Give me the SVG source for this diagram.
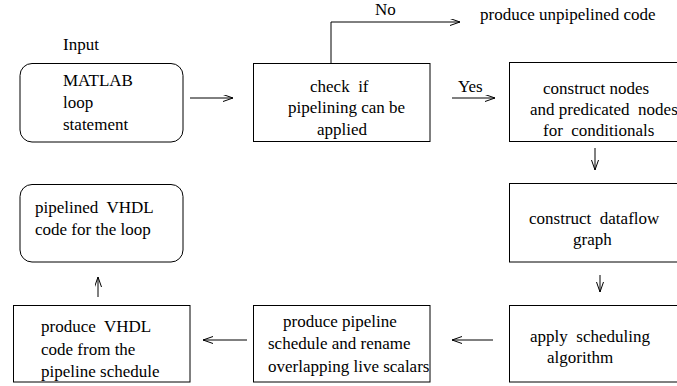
<svg xmlns="http://www.w3.org/2000/svg" width="677" height="386" viewBox="0 0 677 386">
<style>
  .box { fill: #fff; stroke: #000; stroke-width: 1; }
  .t { font-family: "Liberation Serif", "Times New Roman", serif; font-size: 17px; fill: #000; white-space: pre; }
  .c { stroke: #000; stroke-width: 1; fill: none; }
</style>
<defs>
  <marker id="arr" markerUnits="userSpaceOnUse" markerWidth="12" markerHeight="8" refX="10" refY="3.5" orient="auto">
    <path d="M0,0 L10,3.5 L0,7" fill="none" stroke="#000" stroke-width="1"/>
  </marker>
</defs>
<rect width="677" height="386" fill="#fff"/>
<g id="connectors">
  <line class="c" x1="190" y1="98" x2="233" y2="98" marker-end="url(#arr)"/>
  <line class="c" x1="452" y1="98" x2="495" y2="98" marker-end="url(#arr)"/>
  <polyline class="c" points="331,63 331,22 460,22" marker-end="url(#arr)"/>
  <line class="c" x1="595" y1="148" x2="595" y2="170" marker-end="url(#arr)"/>
  <line class="c" x1="600" y1="275" x2="600" y2="292" marker-end="url(#arr)"/>
  <line class="c" x1="493" y1="340" x2="452" y2="340" marker-end="url(#arr)"/>
  <line class="c" x1="247" y1="340" x2="203" y2="340" marker-end="url(#arr)"/>
  <line class="c" x1="98" y1="297" x2="98" y2="277" marker-end="url(#arr)"/>
  <text class="t" x="375" y="15">No</text>
  <text class="t" x="458" y="92">Yes</text>
</g>
<g id="input-label">
  <text class="t" x="63" y="50">Input</text>
</g>
<g id="n-unpipelined">
  <text class="t" x="480" y="20">produce unpipelined code</text>
</g>
<g id="n-matlab">
  <rect class="box" x="20" y="63.5" width="163" height="78.5" rx="12" ry="12"/>
  <text class="t" x="63" y="86">MATLAB</text>
  <text class="t" x="63" y="108">loop</text>
  <text class="t" x="63" y="130">statement</text>
</g>
<g id="n-check">
  <rect class="box" x="253.5" y="63.5" width="176.5" height="78"/>
  <text class="t" x="310" y="92" xml:space="preserve">check  if</text>
  <text class="t" x="288" y="113">pipelining can be</text>
  <text class="t" x="317" y="135">applied</text>
</g>
<g id="n-nodes">
  <rect class="box" x="509.5" y="62.5" width="180" height="79"/>
  <text class="t" x="543" y="94">construct nodes</text>
  <text class="t" x="530" y="115" xml:space="preserve">and predicated  nodes</text>
  <text class="t" x="543" y="136" xml:space="preserve">for  conditionals</text>
</g>
<g id="n-dataflow">
  <rect class="box" x="509.5" y="183.5" width="180" height="78.5"/>
  <text class="t" x="529" y="224" xml:space="preserve">construct  dataflow</text>
  <text class="t" x="573" y="245">graph</text>
</g>
<g id="n-schedule">
  <rect class="box" x="509.5" y="305.5" width="180" height="76.5"/>
  <text class="t" x="530" y="342" xml:space="preserve">apply  scheduling</text>
  <text class="t" x="547" y="363">algorithm</text>
</g>
<g id="n-pipeline">
  <rect class="box" x="253.5" y="305.5" width="176.5" height="76.5"/>
  <text class="t" x="283" y="327">produce pipeline</text>
  <text class="t" x="268" y="349">schedule and rename</text>
  <text class="t" x="268" y="372">overlapping live scalars</text>
</g>
<g id="n-vhdlgen">
  <rect class="box" x="13.5" y="305.5" width="176.5" height="76.5"/>
  <text class="t" x="41" y="332" xml:space="preserve">produce  VHDL</text>
  <text class="t" x="41" y="355">code from the</text>
  <text class="t" x="41" y="377">pipeline schedule</text>
</g>
<g id="n-output">
  <rect class="box" x="20" y="184.5" width="163" height="77.5" rx="12" ry="12"/>
  <text class="t" x="35" y="213" xml:space="preserve">pipelined  VHDL</text>
  <text class="t" x="35" y="235">code for the loop</text>
</g>
</svg>
